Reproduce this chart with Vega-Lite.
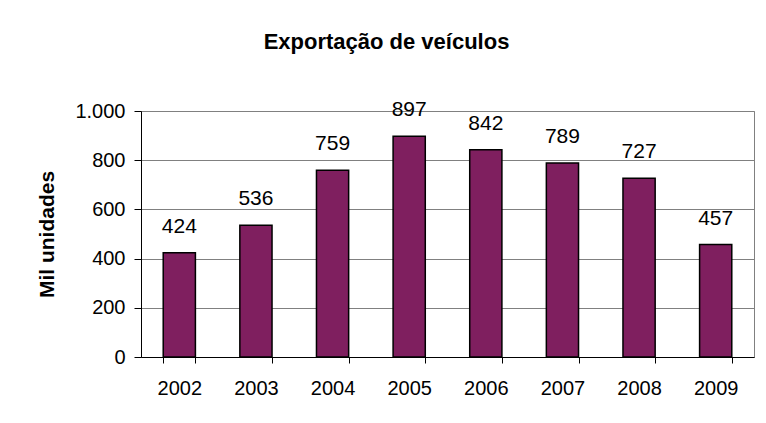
{
  "$schema": "https://vega.github.io/schema/vega-lite/v6.json",
  "autosize": "none",
  "width": 613,
  "height": 246,
  "padding": {"left": 141, "top": 111, "right": 12, "bottom": 66},
  "background": "white",
  "title": {
    "text": "Exportação de veículos",
    "font": "Liberation Sans",
    "fontSize": 22,
    "fontWeight": "bold",
    "color": "black",
    "anchor": "middle",
    "dx": -61,
    "offset": 45
  },
  "data": {
    "values": [
      {"ano": "2002", "valor": 424},
      {"ano": "2003", "valor": 536},
      {"ano": "2004", "valor": 759},
      {"ano": "2005", "valor": 897},
      {"ano": "2006", "valor": 842},
      {"ano": "2007", "valor": 789},
      {"ano": "2008", "valor": 727},
      {"ano": "2009", "valor": 457}
    ]
  },
  "encoding": {
    "x": {
      "field": "ano",
      "type": "nominal",
      "scale": {"paddingInner": 0.58, "paddingOuter": 0.29},
      "axis": {
        "title": null,
        "labelAngle": 0,
        "labelFont": "Liberation Sans",
        "labelFontSize": 20,
        "labelColor": "black",
        "labelPadding": 15,
        "domainColor": "black",
        "domainWidth": 1,
        "tickColor": "black",
        "tickSize": 6,
        "tickBand": "extent",
        "grid": false
      }
    },
    "y": {
      "field": "valor",
      "type": "quantitative",
      "scale": {"domain": [0, 1000], "nice": false},
      "axis": {
        "title": "Mil unidades",
        "titleFont": "Liberation Sans",
        "titleFontSize": 21,
        "titleFontWeight": "bold",
        "titleColor": "black",
        "titleX": -88,
        "titleY": 123,
        "titleAngle": -90,
        "titleAlign": "center",
        "titleBaseline": "alphabetic",
        "values": [0, 200, 400, 600, 800, 1000],
        "labelExpr": "replace(format(datum.value, ','), ',', '.')",
        "labelFont": "Liberation Sans",
        "labelFontSize": 20,
        "labelColor": "black",
        "labelPadding": 9,
        "domainColor": "black",
        "tickColor": "black",
        "tickSize": 7,
        "grid": true,
        "gridColor": "#808080",
        "gridWidth": 1
      }
    }
  },
  "layer": [
    {
      "mark": {"type": "bar", "color": "#7F1F5F", "stroke": "black", "strokeWidth": 1.5}
    },
    {
      "mark": {
        "type": "text",
        "font": "Liberation Sans",
        "fontSize": 21,
        "color": "black",
        "baseline": "alphabetic",
        "dy": -20
      },
      "encoding": {"text": {"field": "valor", "type": "quantitative"}}
    }
  ],
  "config": {
    "view": {"stroke": "#808080", "strokeWidth": 1}
  }
}
